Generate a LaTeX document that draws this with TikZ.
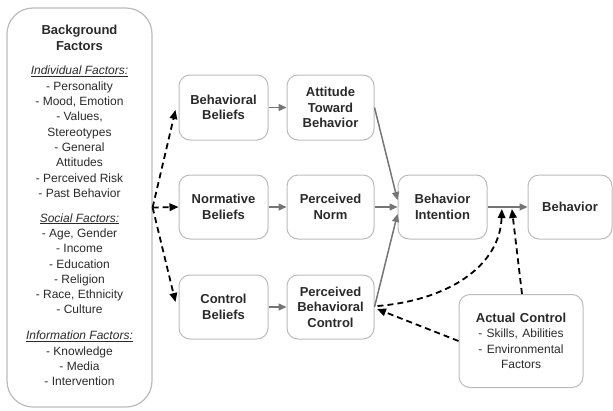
\documentclass[tikz,border=0pt]{standalone}
\usepackage{fontspec}
\setmainfont{Liberation Sans}
\usetikzlibrary{arrows.meta,calc}
\definecolor{boxgray}{HTML}{BBBBBB}
\definecolor{arrgray}{HTML}{757575}
\definecolor{txt}{HTML}{2A2A2A}
\begin{document}
\begin{tikzpicture}[x=1pt,y=-1pt,
  box/.style={draw=boxgray, line width=1pt, rounded corners=11pt, align=center, inner sep=0pt,
    text=txt, font=\fontsize{13}{15.5}\selectfont\bfseries},
  bgbox/.style={draw=boxgray, line width=1.2pt, rounded corners=26pt, inner sep=0pt},
  bgtext/.style={text=txt, text width=144pt, align=center, inner sep=0pt},
  solidarr/.style={draw=arrgray, line width=1.5pt, -{Triangle[length=8pt,width=7pt]}},
  dasharr/.style={draw=black, line width=1.8pt, dash pattern=on 6pt off 4pt, -{Triangle[length=9pt,width=7.5pt]}}]
\useasboundingbox (0,0) rectangle (613,410);

% background factors
\node[bgbox, minimum width=145pt, minimum height=399pt] (BG) at (79.5,207.5) {};
\node[bgtext, anchor=north] (BGT) at (79.5,25) {%
  {\fontsize{13}{16}\selectfont\bfseries Background\\Factors\par}
  \vspace{9pt}
  \fontsize{12}{15.3}\selectfont
  \underline{\textit{Individual Factors:}}\\
  - Personality\\- Mood, Emotion\\- Values,\\Stereotypes\\- General\\Attitudes\\- Perceived Risk\\- Past Behavior\par
  \vspace{9.5pt}
  \underline{\textit{Social Factors:}}\\
  - Age, Gender\\- Income\\- Education\\- Religion\\- Race, Ethnicity\\- Culture\par
  \vspace{10.5pt}
  \underline{\textit{Information Factors:}}\\
  - Knowledge\\- Media\\- Intervention\par};

% main boxes
\node[box, minimum width=89pt, minimum height=65pt] (BB) at (223.5,107.5) {Behavioral\\Beliefs};
\node[box, minimum width=87pt, minimum height=65pt] (ATB) at (330.5,107.5) {Attitude\\Toward\\Behavior};
\node[box, minimum width=89pt, minimum height=64pt] (NB) at (223.5,207) {Normative\\Beliefs};
\node[box, minimum width=87pt, minimum height=64pt] (PN) at (330.5,207) {Perceived\\Norm};
\node[box, minimum width=89pt, minimum height=64pt] (CB) at (223.5,307) {Control\\Beliefs};
\node[box, minimum width=87pt, minimum height=64pt] (PBC) at (330.5,307) {Perceived\\Behavioral\\Control};
\node[box, minimum width=89pt, minimum height=64pt] (BI) at (442.5,207) {Behavior\\Intention};
\node[box, minimum width=84pt, minimum height=64pt] (BEH) at (570,207) {Behavior};
\node[box, minimum width=124pt, minimum height=93pt, text width=122pt] (AC) at (521,341)
  {Actual Control\par
   \fontsize{12}{15.5}\selectfont\mdseries - Skills, Abilities\\- Environmental\\Factors\par};

% helper coordinates
\coordinate (bbin) at ($(BB.west)+(-3,2.5)$);
\coordinate (cbin) at ($(CB.west)+(-3,-5)$);
\coordinate (link1) at ($(BI.east)!0.36!(BEH.west)+(0,2)$);
\coordinate (link2) at ($(BI.east)!0.61!(BEH.west)+(0,2)$);
\coordinate (pbcin) at ($(PBC.east)+(2.5,2)$);

% solid arrows
\draw[solidarr] (BB.east) -- (ATB.west);
\draw[solidarr] (NB.east) -- (PN.west);
\draw[solidarr] (CB.east) -- (PBC.west);
\draw[solidarr] (ATB.east) -- ($(BI.west)+(0,-7)$);
\draw[solidarr] (PN.east) -- (BI.west);
\draw[solidarr] (PBC.east) -- ($(BI.west)+(0,7)$);
\draw[solidarr] (BI.east) -- (BEH.west);

% dashed arrows
\draw[dasharr] (BG.east) -- (bbin);
\draw[dasharr] (BG.east) -- (NB.west);
\draw[dasharr] (BG.east) -- (cbin);
\draw[dasharr] ($(PBC.east)+(3,-1)$) .. controls (450,300) and (500,265) .. (link1);
\draw[dasharr] ($(AC.north)+(1,0)$) -- (link2);
\draw[dasharr] (AC.west) -- (pbcin);
\end{tikzpicture}
\end{document}
